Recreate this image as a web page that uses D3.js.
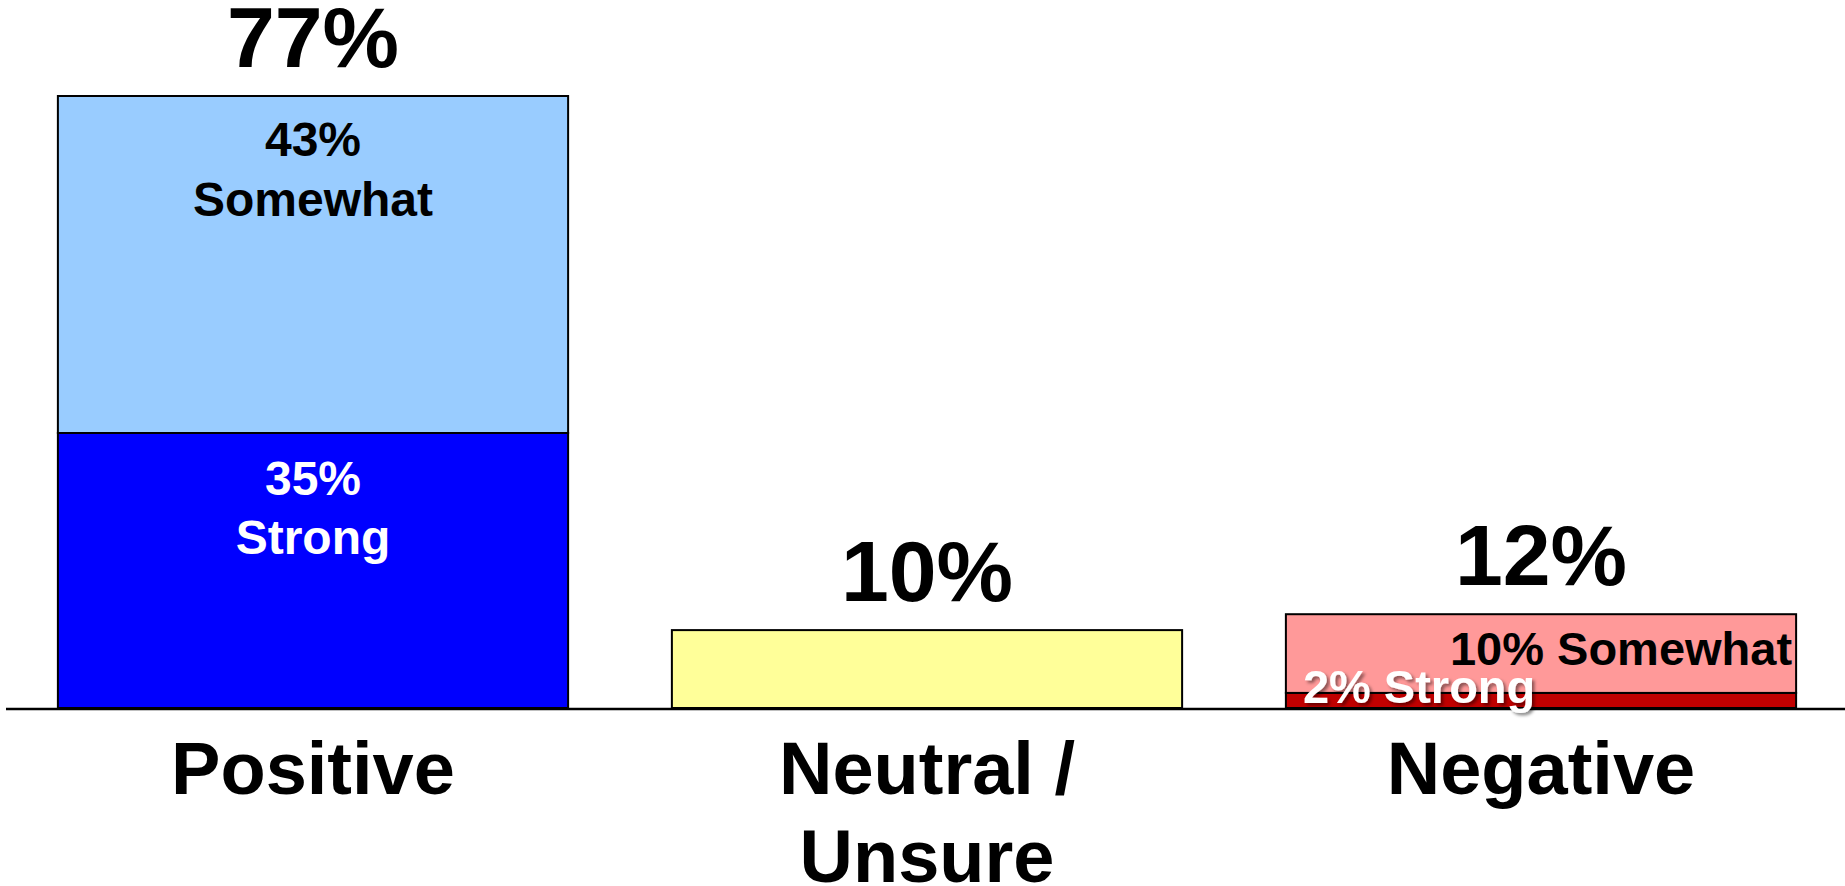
<!DOCTYPE html>
<html>
<head>
<meta charset="utf-8">
<script src="https://cdn.jsdelivr.net/npm/d3@7"></script>
<style>
  html, body { margin: 0; padding: 0; background: #fff; }
  svg { display: block; font-family: "Liberation Sans", Arial, sans-serif; font-weight: bold; }
</style>
</head>
<body>
<svg id="chart" width="1845" height="886"></svg>
<script>
// ---- data ----
const categories = ["Positive", "Neutral / Unsure", "Negative"];
const categoryLines = [["Positive"], ["Neutral /", "Unsure"], ["Negative"]];
const strongValues   = [34.6, 0, 1.9];
const somewhatValues = [42.4, 0, 9.9];
const neutralValues  = [0, 9.8, 0];
const totalLabels    = ["77%", "10%", "12%"];
const strongLabels   = ["35%", "", "2%"];
const somewhatLabels = ["43%", "", "10%"];

const colors = {
  posStrong: "#0000FF", posSomewhat: "#99CCFF",
  neutral: "#FFFF99",
  negStrong: "#C00000", negSomewhat: "#FF9999"
};

const svg = d3.select("#chart");
const x = d3.scaleBand().domain(categories).range([6, 1848]).paddingInner(0.169).paddingOuter(0.0845);
const y = d3.scaleLinear().domain([0, 77]).range([708, 96]);

// segments table
const segs = [];
categories.forEach((c, i) => {
  let base = 0;
  const parts = i === 0 ? [[strongValues[i], colors.posStrong], [somewhatValues[i], colors.posSomewhat]]
              : i === 1 ? [[neutralValues[i], colors.neutral]]
              : [[strongValues[i], colors.negStrong], [somewhatValues[i], colors.negSomewhat]];
  parts.forEach(([v, col]) => {
    segs.push({ cat: c, y0: base, y1: base + v, color: col });
    base += v;
  });
});

svg.append("g").selectAll("rect").data(segs).join("rect")
  .attr("x", d => x(d.cat))
  .attr("width", x.bandwidth())
  .attr("y", d => y(d.y1))
  .attr("height", d => y(d.y0) - y(d.y1))
  .attr("fill", d => d.color)
  .attr("stroke", "#000")
  .attr("stroke-width", 2);

// baseline
svg.append("line").attr("x1", 6).attr("x2", 1845).attr("y1", y(0) + 1).attr("y2", y(0) + 1)
  .attr("stroke", "#000").attr("stroke-width", 2.5);

// totals
const totals = categories.map((c, i) => i === 1 ? neutralValues[i] : strongValues[i] + somewhatValues[i]);
svg.append("g").selectAll("text").data(categories).join("text")
  .attr("x", d => x(d) + x.bandwidth() / 2)
  .attr("y", (d, i) => y(totals[i]) - 29)
  .attr("text-anchor", "middle")
  .attr("font-size", 86)
  .text((d, i) => totalLabels[i]);

// Positive segment labels
const cx0 = x(categories[0]) + x.bandwidth() / 2;
const posTop = svg.append("text").attr("text-anchor", "middle").attr("font-size", 48).attr("fill", "#000");
posTop.append("tspan").attr("x", cx0).attr("y", y(strongValues[0] + somewhatValues[0]) + 60).text(somewhatLabels[0]);
posTop.append("tspan").attr("x", cx0).attr("y", y(strongValues[0] + somewhatValues[0]) + 120).text("Somewhat");
const posBot = svg.append("text").attr("text-anchor", "middle").attr("font-size", 48).attr("fill", "#fff");
posBot.append("tspan").attr("x", cx0).attr("y", y(strongValues[0]) + 62).text(strongLabels[0]);
posBot.append("tspan").attr("x", cx0).attr("y", y(strongValues[0]) + 121).text("Strong");

// Negative segment labels
const nx = x(categories[2]);
svg.append("text")
  .attr("x", nx + x.bandwidth() - 4)
  .attr("y", y(strongValues[2] + somewhatValues[2]) + 51)
  .attr("text-anchor", "end").attr("font-size", 47).attr("fill", "#000")
  .text(somewhatLabels[2] + " Somewhat");
const defs = svg.append("defs");
const f = defs.append("filter").attr("id", "sh").attr("x", "-10%").attr("y", "-30%").attr("width", "130%").attr("height", "160%");
f.append("feDropShadow").attr("dx", 2.5).attr("dy", 2.5).attr("stdDeviation", 1.5).attr("flood-color", "#000").attr("flood-opacity", 0.45);
svg.append("text")
  .attr("x", nx + 17)
  .attr("y", y(0) - 5)
  .attr("text-anchor", "start").attr("font-size", 47).attr("fill", "#fff")
  .attr("filter", "url(#sh)")
  .text(strongLabels[2] + " Strong");

// category labels
const cl = svg.append("g").selectAll("text").data(categories).join("text")
  .attr("text-anchor", "middle").attr("font-size", 74).attr("fill", "#000");
cl.each(function(d, i) {
  const t = d3.select(this);
  categoryLines[i].forEach((line, j) => {
    t.append("tspan").attr("x", x(d) + x.bandwidth() / 2).attr("y", 794 + j * 88).text(line);
  });
});
</script>
</body>
</html>
